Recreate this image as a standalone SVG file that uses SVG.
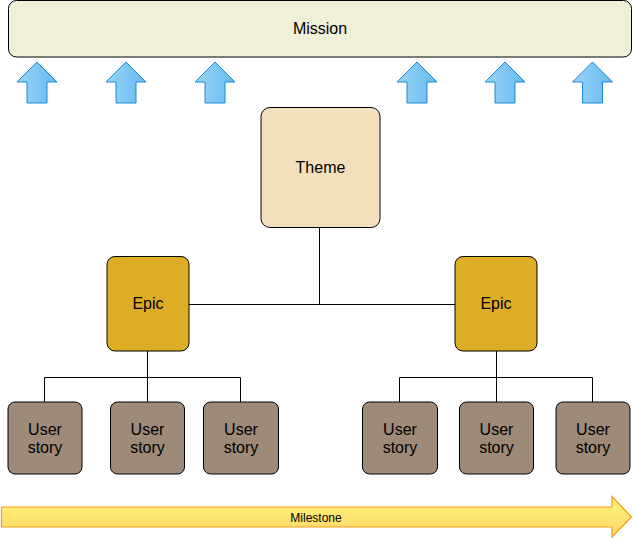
<svg xmlns="http://www.w3.org/2000/svg" width="633" height="538" viewBox="0 0 633 538">
<defs>
<linearGradient id="gBlue" x1="0" y1="0" x2="1" y2="0">
<stop offset="0" stop-color="#9BD5F8"/>
<stop offset="1" stop-color="#65B9EE"/>
</linearGradient>
<linearGradient id="gYel" x1="0" y1="0" x2="0" y2="1">
<stop offset="0" stop-color="#FFF27E"/>
<stop offset="1" stop-color="#FFD865"/>
</linearGradient>
<style>
text{font-family:"Liberation Sans",Arial,sans-serif;font-size:16px;fill:#000;text-anchor:middle;dominant-baseline:central}
.node{stroke:#000;stroke-width:1}
.mission{fill:#F0EFD8}
.theme{fill:#F2E0BD}
.epic{fill:#DDAD25}
.story{fill:#9E8A78}
.up{fill:url(#gBlue);stroke:#1A8AD6;stroke-width:1}
.conn{fill:none;stroke:#000;stroke-width:1}
.ms{fill:url(#gYel);stroke:#F29B1C;stroke-width:1.2}
</style>
<path id="upArrow" d="M0,0 L20,20 L10,20 L10,41 L-10,41 L-10,20 L-20,20 Z"/>
</defs>

<g id="mission">
<rect class="node mission" x="8.5" y="0.5" width="623" height="56.5" rx="8"/>
<text x="320" y="28">Mission</text>
</g>

<g id="up-arrows">
<use href="#upArrow" class="up" x="37" y="62"/>
<use href="#upArrow" class="up" x="126" y="62"/>
<use href="#upArrow" class="up" x="215" y="62"/>
<use href="#upArrow" class="up" x="417" y="62"/>
<use href="#upArrow" class="up" x="505" y="62"/>
<use href="#upArrow" class="up" x="592.5" y="62"/>
</g>

<g id="connectors">
<path class="conn" d="M319.5,227 V304.5 M189,304.5 H455"/>
<path class="conn" d="M147.5,351 V377.5 M44.5,377.5 H240.5 M44.5,377.5 V402 M147.5,377.5 V402 M240.5,377.5 V402"/>
<path class="conn" d="M496.5,351 V377.5 M399.5,377.5 H592.5 M399.5,377.5 V402 M496.5,377.5 V402 M592.5,377.5 V402"/>
</g>

<g id="theme">
<rect class="node theme" x="261" y="107.5" width="119" height="120" rx="9"/>
<text x="320.5" y="167">Theme</text>
</g>

<g id="epic-left">
<rect class="node epic" x="107" y="256.5" width="82" height="94.5" rx="8"/>
<text x="148" y="303">Epic</text>
</g>
<g id="epic-right">
<rect class="node epic" x="455" y="256.5" width="82" height="94.5" rx="8"/>
<text x="496" y="303">Epic</text>
</g>

<g id="story-1">
<rect class="node story" x="8" y="402" width="74" height="72" rx="7"/>
<text x="45" y="429">User</text><text x="45" y="447">story</text>
</g>
<g id="story-2">
<rect class="node story" x="110.5" y="402" width="74" height="72" rx="7"/>
<text x="147.5" y="429">User</text><text x="147.5" y="447">story</text>
</g>
<g id="story-3">
<rect class="node story" x="203.5" y="402" width="75" height="72" rx="7"/>
<text x="241" y="429">User</text><text x="241" y="447">story</text>
</g>
<g id="story-4">
<rect class="node story" x="362.5" y="402" width="75" height="72" rx="7"/>
<text x="400" y="429">User</text><text x="400" y="447">story</text>
</g>
<g id="story-5">
<rect class="node story" x="459.5" y="402" width="74" height="72" rx="7"/>
<text x="496.5" y="429">User</text><text x="496.5" y="447">story</text>
</g>
<g id="story-6">
<rect class="node story" x="556" y="402" width="74" height="72" rx="7"/>
<text x="593" y="429">User</text><text x="593" y="447">story</text>
</g>

<g id="milestone">
<path class="ms" d="M1.5,507 H612 V496.5 L631.5,517 L612,537 V527 H1.5 Z"/>
<text x="316" y="518" style="font-size:12px">Milestone</text>
</g>
</svg>
